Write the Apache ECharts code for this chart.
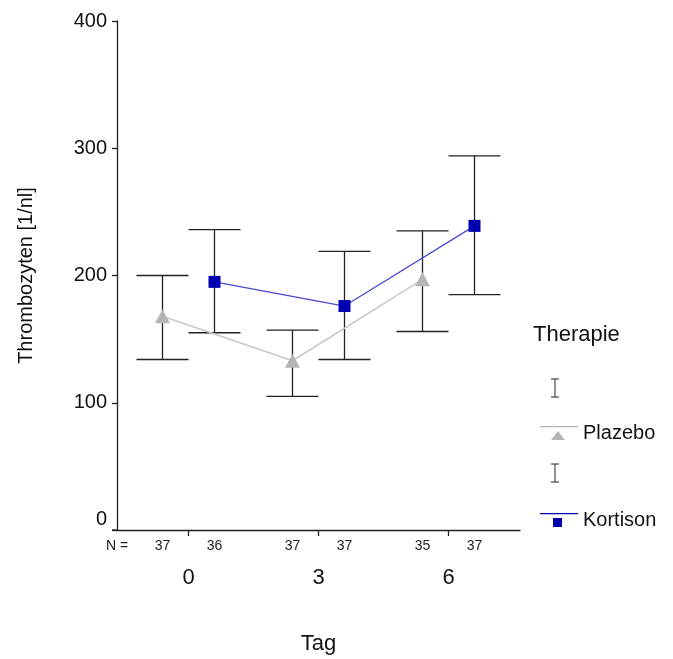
<!DOCTYPE html>
<html>
<head>
<meta charset="utf-8">
<script src="https://cdn.jsdelivr.net/npm/echarts@6/dist/echarts.min.js"></script>
<style>
  html, body { margin: 0; padding: 0; background: #fff; }
  #chart { width: 673px; height: 659px; }
</style>
</head>
<body>
<div id="chart"></div>
<script>
// Tag (Tage nach Beginn)
const days = [0, 3, 6]
const yTicks = [0, 100, 200, 300, 400]

// Plazebo: Mittelwert mit Fehlerbalken
const plazeboMean = [168, 133, 197]
const plazeboLow = [134, 105, 156]
const plazeboHigh = [200, 157, 235]
const plazeboN = [37, 37, 35]

// Kortison
const kortisonMean = [195, 176, 239]
const kortisonLow = [155, 134, 185]
const kortisonHigh = [236, 219, 294]
const kortisonN = [36, 37, 37]

const SHIFT = 0.6 // Versatz der beiden Gruppen um jeden Tag
const FONT = 'Liberation Sans, Arial, sans-serif'

const plazeboX = days.map(d => d - SHIFT)
const kortisonX = days.map(d => d + SHIFT)
const nPos = []
const nVal = []
days.forEach((d, i) => {
  nPos.push(plazeboX[i], kortisonX[i])
  nVal.push(plazeboN[i], kortisonN[i])
})

function errorBar (color) {
  return function (params, api) {
    const top = api.coord([api.value(0), api.value(2)])
    const bot = api.coord([api.value(0), api.value(1)])
    const w = 26
    const style = { stroke: color, lineWidth: 1.3 }
    return {
      type: 'group',
      children: [
        { type: 'line', shape: { x1: top[0], y1: top[1], x2: bot[0], y2: bot[1] }, style },
        { type: 'line', shape: { x1: top[0] - w, y1: top[1], x2: top[0] + w, y2: top[1] }, style },
        { type: 'line', shape: { x1: bot[0] - w, y1: bot[1], x2: bot[0] + w, y2: bot[1] }, style }
      ]
    }
  }
}

const chart = echarts.init(document.getElementById('chart'), null, { renderer: 'canvas' })

const xBase = {
  type: 'value',
  min: -1.65,
  max: 7.65,
  splitLine: { show: false }
}

chart.setOption({
  animation: false,
  backgroundColor: '#fff',
  textStyle: { fontFamily: FONT },
  grid: { left: 117, right: 153, top: 21, bottom: 129, containLabel: false, outerBoundsMode: 'none' },
  xAxis: [
    Object.assign({}, xBase, {
      name: 'Tag',
      nameLocation: 'middle',
      nameGap: 103,
      nameTextStyle: { fontSize: 22, color: '#111', fontFamily: FONT },
      axisLine: { onZero: false, lineStyle: { color: '#222', width: 1.3 } },
      axisTick: { show: true, length: 6, customValues: days, lineStyle: { color: '#222', width: 1.3 } },
      axisLabel: { customValues: days, fontSize: 22, color: '#111', margin: 37, fontFamily: FONT }
    }),
    Object.assign({}, xBase, {
      position: 'bottom',
      axisLine: { show: false, onZero: false },
      axisTick: { show: false },
      axisLabel: {
        customValues: nPos,
        fontSize: 14,
        color: '#222',
        margin: 9,
        fontFamily: FONT,
        formatter: v => {
          const i = nPos.findIndex(p => Math.abs(p - v) < 0.01)
          return i >= 0 ? String(nVal[i]) : ''
        }
      }
    })
  ],
  yAxis: {
    type: 'value',
    min: yTicks[0],
    max: yTicks[yTicks.length - 1],
    interval: 100,
    name: 'Thrombozyten [1/nl]',
    nameLocation: 'middle',
    nameGap: 81,
    nameTextStyle: { fontSize: 20, color: '#111', fontFamily: FONT },
    splitLine: { show: false },
    axisLine: { show: true, onZero: false, lineStyle: { color: '#222', width: 1.3 } },
    axisTick: { show: true, length: 5, lineStyle: { color: '#222', width: 1.3 } },
    axisLabel: {
      fontSize: 20,
      color: '#111',
      margin: 10,
      fontFamily: FONT,
      formatter: v => (v === 0 ? '{z|0}' : String(v)),
      rich: { z: { fontSize: 20, color: '#111', fontFamily: FONT, padding: [0, 0, 22, 0] } }
    }
  },
  legend: {
    orient: 'vertical',
    left: 535,
    top: 418,
    itemWidth: 38,
    itemHeight: 14,
    itemGap: 67,
    selectedMode: false,
    textStyle: { fontSize: 20, color: '#111', fontFamily: FONT },
    data: [
      { name: 'Plazebo', icon: 'path://M0,0 L38,0 L38,1.2 L0,1.2 Z M18,5 L25,14 L11,14 Z', itemStyle: { color: '#b5b5b5' } },
      { name: 'Kortison', icon: 'path://M0,0 L38,0 L38,1.2 L0,1.2 Z M13,5 L22,5 L22,14 L13,14 Z', itemStyle: { color: '#0000b0' } }
    ]
  },
  graphic: [
    { type: 'text', left: 533, top: 324, style: { text: 'Therapie', fontSize: 22, fill: '#111', fontFamily: FONT } },
    { type: 'text', x: 117, y: 546, style: { text: 'N =', fontSize: 14, fill: '#222', fontFamily: FONT, align: 'center', verticalAlign: 'middle' } },
    { type: 'line', shape: { x1: 112, y1: 530, x2: 117, y2: 530 }, style: { stroke: '#222', lineWidth: 1.3 } },
    { type: 'group', x: 555, y: 379, children: [
      { type: 'line', shape: { x1: 0, y1: 0, x2: 0, y2: 18 }, style: { stroke: '#222', lineWidth: 1 } },
      { type: 'line', shape: { x1: -4, y1: 0, x2: 4, y2: 0 }, style: { stroke: '#222', lineWidth: 1 } },
      { type: 'line', shape: { x1: -4, y1: 18, x2: 4, y2: 18 }, style: { stroke: '#222', lineWidth: 1 } }
    ] },
    { type: 'group', x: 555, y: 464, children: [
      { type: 'line', shape: { x1: 0, y1: 0, x2: 0, y2: 18 }, style: { stroke: '#222', lineWidth: 1 } },
      { type: 'line', shape: { x1: -4, y1: 0, x2: 4, y2: 0 }, style: { stroke: '#222', lineWidth: 1 } },
      { type: 'line', shape: { x1: -4, y1: 18, x2: 4, y2: 18 }, style: { stroke: '#222', lineWidth: 1 } }
    ] }
  ],
  series: [
    {
      name: 'Plazebo Fehler',
      type: 'custom',
      renderItem: errorBar('#222'),
      data: plazeboX.map((x, i) => [x, plazeboLow[i], plazeboHigh[i]]),
      z: 1
    },
    {
      name: 'Kortison Fehler',
      type: 'custom',
      renderItem: errorBar('#222'),
      data: kortisonX.map((x, i) => [x, kortisonLow[i], kortisonHigh[i]]),
      z: 1
    },
    {
      name: 'Plazebo',
      type: 'line',
      data: plazeboX.map((x, i) => [x, plazeboMean[i]]),
      symbol: 'triangle',
      symbolSize: [15, 14],
      lineStyle: { color: '#c8c8c8', width: 1.5 },
      itemStyle: { color: '#b5b5b5' },
      z: 3
    },
    {
      name: 'Kortison',
      type: 'line',
      data: kortisonX.map((x, i) => [x, kortisonMean[i]]),
      symbol: 'rect',
      symbolSize: 12,
      lineStyle: { color: '#4848d0', width: 1.2 },
      itemStyle: { color: '#0000b0' },
      z: 4
    }
  ]
})
</script>
</body>
</html>
